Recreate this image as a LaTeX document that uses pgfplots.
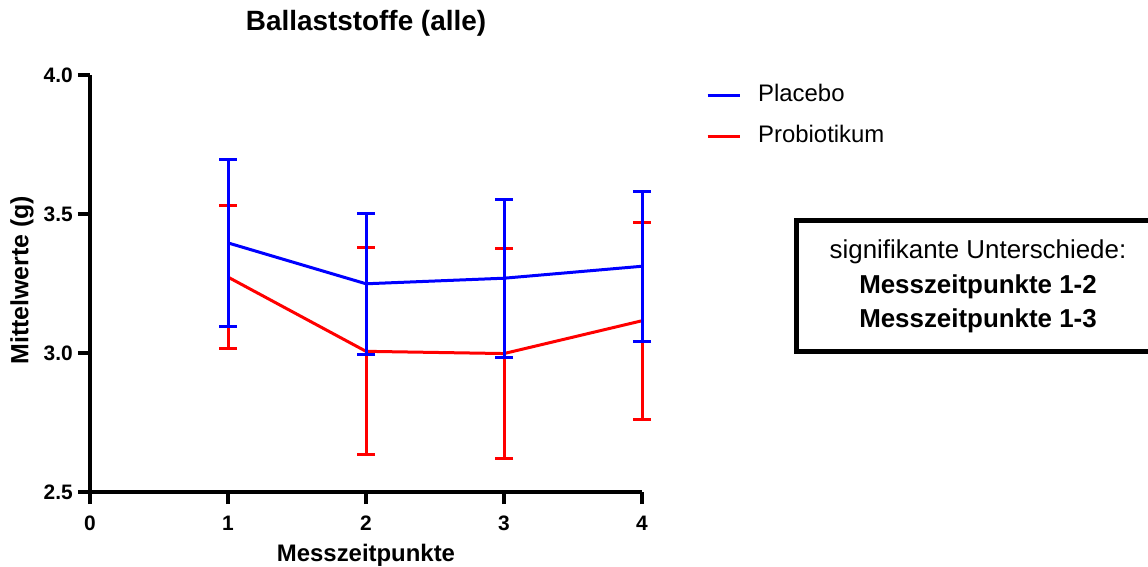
\documentclass[border=0pt]{standalone}
\usepackage{pgfplots}
\pgfplotsset{compat=1.18}
\usepackage{fontspec}
\setmainfont{Liberation Sans}
\definecolor{pblue}{RGB}{0,0,255}
\definecolor{pred}{RGB}{255,0,0}
\newcommand{\tfont}{\bfseries\fontsize{21}{25}\selectfont}
\begin{document}
\begin{tikzpicture}[x=1bp,y=1bp]
\begin{axis}[
  at={(90bp,75bp)}, anchor=south west,
  scale only axis, width=552bp, height=417bp,
  xmin=0, xmax=4, ymin=2.5, ymax=4,
  clip=false,
  axis lines=left,
  axis line style={-, line width=4bp},
  xtick={0,1,2,3,4},
  ytick={2.5,3.0,3.5,4.0},
  tick align=outside,
  major tick length=12bp,
  every tick/.style={line width=4bp, black},
  minor tick num=0,
  /pgf/number format/assume math mode=true,
  xticklabel={\mbox{\tfont\pgfmathprintnumber{\tick}}},
  yticklabel={\mbox{\tfont\pgfmathprintnumber[fixed,fixed zerofill,precision=1]{\tick}}},
  yticklabel style={inner sep=0pt, xshift=-5bp},
  xticklabel style={inner sep=0pt, anchor=base, yshift=-26bp},
  title={Ballaststoffe (alle)},
  title style={at={(0.5,1.0918)}, anchor=base, inner sep=0pt, font=\bfseries\fontsize{28}{32}\selectfont},
  xlabel={Messzeitpunkte},
  xlabel style={at={(0.5,-0.1671)}, anchor=base, inner sep=0pt, font=\bfseries\fontsize{24}{28}\selectfont},
  ylabel={Mittelwerte (g)},
  ylabel style={at={(-0.123,0.508)}, anchor=center, font=\bfseries\fontsize{25}{29}\selectfont},
  legend style={at={(1.1105,0.982)}, anchor=north west, draw=none, fill=none,
    font=\fontsize{24}{28}\selectfont, row sep=19bp,
    nodes={inner sep=0pt, text height=17bp, text depth=5bp},
    /tikz/every odd column/.append style={column sep=17bp}},
  legend cell align=left,
  legend image code/.code={\draw[line width=3bp] (0bp,0bp) -- (32bp,0bp);},
]
\addlegendimage{pblue, line width=3bp}
\addlegendentry{Placebo}
\addlegendimage{pred, line width=3bp}
\addlegendentry{Probiotikum}

\addplot[pred, line width=3bp, mark=none, forget plot,
  error bars/.cd, y dir=both, y explicit,
  error bar style={line width=3bp, pred},
  error mark options={rotate=90, mark size=9bp, line width=3bp, pred}]
  coordinates {
  (1,3.273) +- (0,0.257)
  (2,3.006) +- (0,0.372)
  (3,2.998) +- (0,0.379)
  (4,3.116) +- (0,0.355)
};
\addplot[pblue, line width=3bp, mark=none, forget plot,
  error bars/.cd, y dir=both, y explicit,
  error bar style={line width=3bp, pblue},
  error mark options={rotate=90, mark size=9bp, line width=3bp, pblue}]
  coordinates {
  (1,3.396) +- (0,0.300)
  (2,3.249) +- (0,0.253)
  (3,3.269) +- (0,0.284)
  (4,3.312) +- (0,0.270)
};
\end{axis}
\node[draw, line width=5bp, minimum width=364bp, minimum height=131bp, inner sep=0pt,
  align=center, font=\fontsize{26}{34.5}\selectfont] at (978bp,280.5bp)
  {signifikante Unterschiede:\\\textbf{Messzeitpunkte 1-2}\\\textbf{Messzeitpunkte 1-3}};
\pgfresetboundingbox
\path[use as bounding box] (0bp,0bp) rectangle (1148bp,567bp);
\end{tikzpicture}
\end{document}
